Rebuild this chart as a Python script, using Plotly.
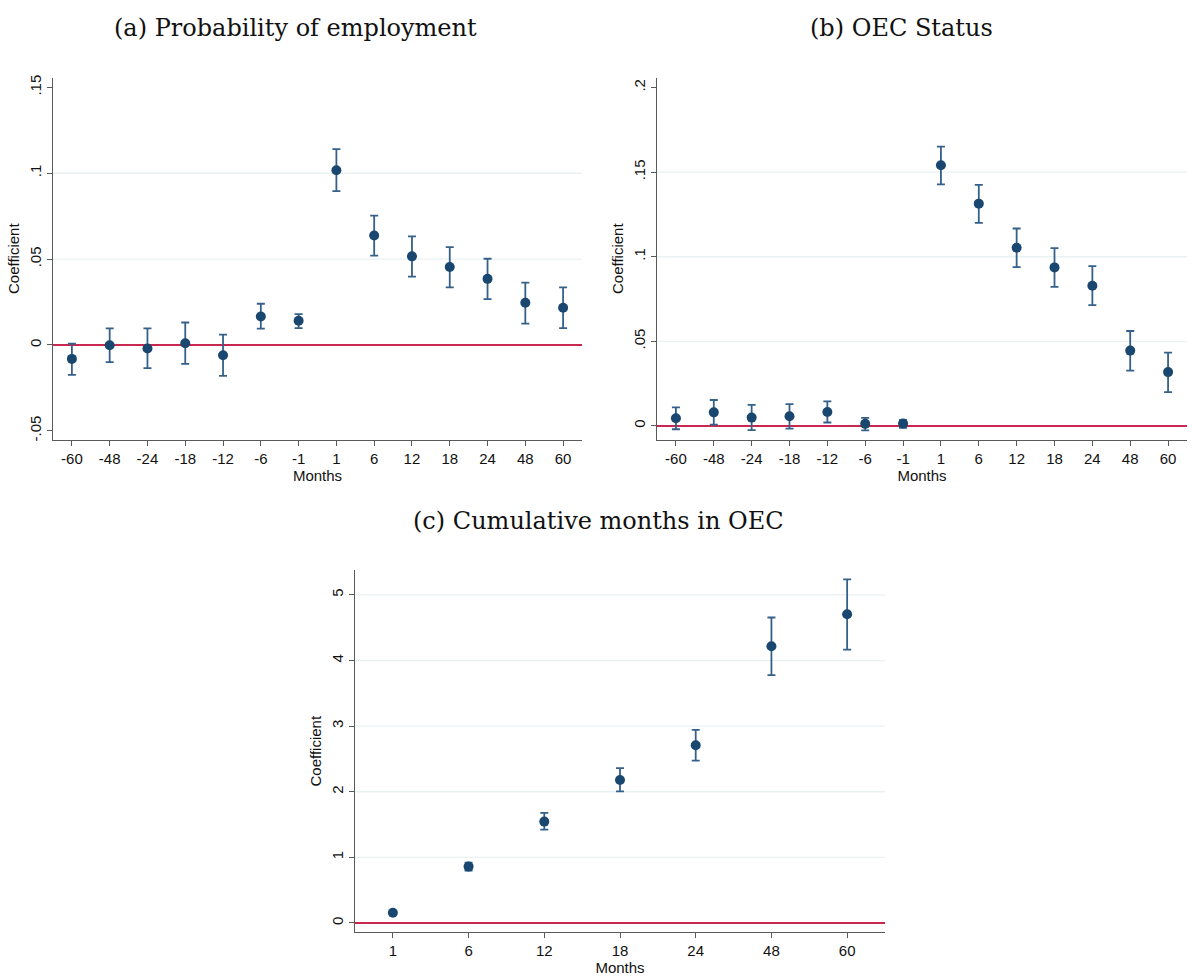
import plotly.graph_objects as go

# ---- Panel (a): probability of employment ----
months_a = ["-60", "-48", "-24", "-18", "-12", "-6", "-1", "1", "6", "12", "18", "24", "48", "60"]
coef_a = [-0.0081, -0.0002, -0.0021, 0.0010, -0.0060, 0.0166, 0.0141,
          0.1018, 0.0637, 0.0516, 0.0454, 0.0385, 0.0246, 0.0217]
lo_a = [-0.0174, -0.0100, -0.0135, -0.0110, -0.0180, 0.0095, 0.0098,
        0.0896, 0.0520, 0.0398, 0.0336, 0.0267, 0.0124, 0.0098]
hi_a = [0.0008, 0.0097, 0.0097, 0.0131, 0.0060, 0.0240, 0.0180,
        0.1140, 0.0753, 0.0632, 0.0570, 0.0502, 0.0363, 0.0336]
yticks_a = [-0.05, 0, 0.05, 0.1, 0.15]
ylabels_a = ["-.05", "0", ".05", ".1", ".15"]
grid_a = [0.05, 0.1]

# ---- Panel (b): OEC status ----
months_b = months_a
coef_b = [0.0045, 0.0080, 0.0049, 0.0057, 0.0082, 0.0012, 0.0014,
          0.1541, 0.1314, 0.1053, 0.0937, 0.0829, 0.0445, 0.0318]
lo_b = [-0.0020, 0.0008, -0.0025, -0.0016, 0.0020, -0.0027, -0.0012,
        0.1428, 0.1200, 0.0939, 0.0822, 0.0714, 0.0327, 0.0200]
hi_b = [0.0110, 0.0153, 0.0124, 0.0129, 0.0145, 0.0047, 0.0035,
        0.1651, 0.1425, 0.1167, 0.1051, 0.0945, 0.0561, 0.0433]
yticks_b = [0, 0.05, 0.1, 0.15, 0.2]
ylabels_b = ["0", ".05", ".1", ".15", ".2"]
grid_b = [0.05, 0.1, 0.15]

# ---- Panel (c): cumulative months in OEC ----
months_c = ["1", "6", "12", "18", "24", "48", "60"]
coef_c = [0.157, 0.859, 1.545, 2.180, 2.710, 4.217, 4.707]
lo_c = [0.145, 0.800, 1.424, 2.005, 2.475, 3.777, 4.167]
hi_c = [0.169, 0.920, 1.677, 2.360, 2.944, 4.656, 5.237]
yticks_c = [0, 1, 2, 3, 4, 5]
ylabels_c = ["0", "1", "2", "3", "4", "5"]
grid_c = [1, 2, 3, 4, 5]

W, H = 1192, 976
NAVY = "#1a476f"
BAR = "#34608a"
AXIS = "#5a5a5a"
GRID = "#eaf1f3"
ZERO = "#c8284f"
SANS = "Liberation Sans, Arial, sans-serif"
SERIF = "DejaVu Serif, serif"
TXT = 15

# plot-area boxes in pixels: (left, right, top, bottom)
boxes = {
    "a": (53, 582, 75, 439),
    "b": (657, 1187, 75, 439),
    "c": (355, 885, 570, 934),
}

panels = [
    ("a", months_a, coef_a, lo_a, hi_a, yticks_a, ylabels_a, grid_a, (-0.0552, 0.1557)),
    ("b", months_b, coef_b, lo_b, hi_b, yticks_b, ylabels_b, grid_b, (-0.0082, 0.2059)),
    ("c", months_c, coef_c, lo_c, hi_c, yticks_c, ylabels_c, grid_c, (-0.141, 5.379)),
]

fig = go.Figure()
layout = dict(
    width=W, height=H,
    margin=dict(l=0, r=0, t=0, b=0),
    paper_bgcolor="white", plot_bgcolor="white",
    showlegend=False,
    font=dict(family=SANS, size=TXT, color="#111"),
)
shapes = []

for i, (key, cats, coef, lo, hi, yt, yl, grid, yr) in enumerate(panels, start=1):
    xa = "x" if i == 1 else f"x{i}"
    ya = "y" if i == 1 else f"y{i}"
    left, right, top, bottom = boxes[key]
    err_up = [h - c for h, c in zip(hi, coef)]
    err_dn = [c - l for c, l in zip(coef, lo)]
    fig.add_trace(go.Scatter(
        x=cats, y=coef, mode="markers", xaxis=xa, yaxis=ya,
        marker=dict(color=NAVY, size=10),
        error_y=dict(type="data", symmetric=False, array=err_up, arrayminus=err_dn,
                     color=BAR, thickness=1.8, width=4),
    ))
    xkey = "xaxis" if i == 1 else f"xaxis{i}"
    ykey = "yaxis" if i == 1 else f"yaxis{i}"
    layout[xkey] = dict(
        domain=[left / W, right / W], anchor=ya, type="category",
        categoryorder="array", categoryarray=cats,
        range=[-0.5, len(cats) - 0.5],
        showline=True, linecolor=AXIS, linewidth=1.3,
        ticks="outside", ticklen=5, tickcolor=AXIS, tickwidth=1,
        showgrid=False, zeroline=False,
        tickfont=dict(family=SANS, size=TXT, color="#111"),
        title=dict(text="Months", standoff=1, font=dict(family=SANS, size=TXT, color="#111")),
    )
    layout[ykey] = dict(
        domain=[1 - bottom / H, 1 - top / H], anchor=xa,
        range=list(yr), tickvals=yt, ticktext=yl, tickangle=-90,
        showline=True, linecolor=AXIS, linewidth=1.3,
        ticks="outside", ticklen=5, tickcolor=AXIS, tickwidth=1,
        showgrid=False, zeroline=True, zerolinecolor=ZERO, zerolinewidth=1.5,
        tickfont=dict(family=SANS, size=TXT, color="#111"),
        title=dict(text="Coefficient", standoff=3, font=dict(family=SANS, size=TXT, color="#111")),
    )
    for g in grid:
        shapes.append(dict(type="line", xref=f"{xa} domain", yref=ya,
                           x0=0, x1=1, y0=g, y1=g, layer="below",
                           line=dict(color=GRID, width=1.3)))

layout["shapes"] = shapes
title_font = dict(family=SERIF, size=24, color="#111")
layout["annotations"] = [
    dict(text="(a) Probability of employment", x=295 / W, y=1 - 25 / H,
         xref="paper", yref="paper", showarrow=False, xanchor="center", yanchor="middle",
         font=title_font),
    dict(text="(b) OEC Status", x=901 / W, y=1 - 25 / H,
         xref="paper", yref="paper", showarrow=False, xanchor="center", yanchor="middle",
         font=title_font),
    dict(text="(c) Cumulative months in OEC", x=598 / W, y=1 - 521 / H,
         xref="paper", yref="paper", showarrow=False, xanchor="center", yanchor="middle",
         font=title_font),
]
fig.update_layout(**layout)
fig.write_html("out.html")
